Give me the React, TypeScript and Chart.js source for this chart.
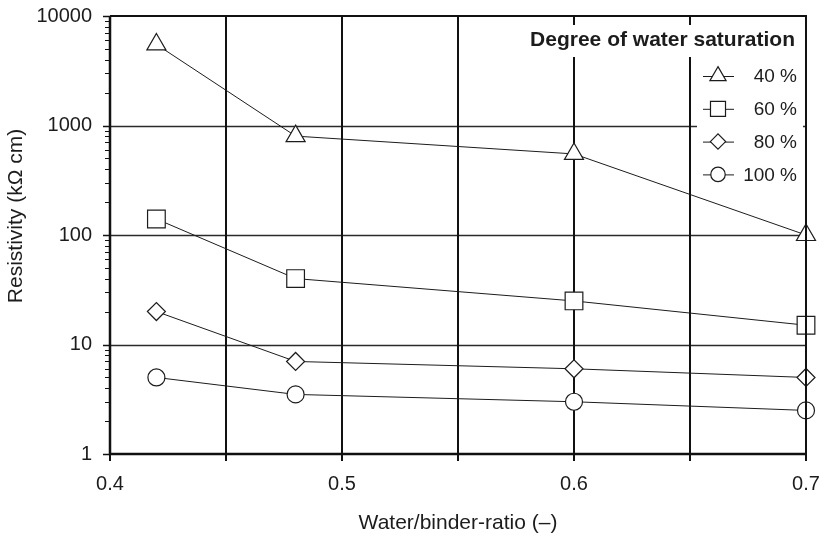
import React, { useEffect, useRef } from 'react';
import { Chart, registerables } from 'chart.js';

Chart.register(...registerables);

// ---- data ----
const waterBinderRatio = [0.42, 0.48, 0.6, 0.7];
const saturation40 = [5500, 800, 550, 100];
const saturation60 = [140, 40, 25, 15];
const saturation80 = [20, 7, 6, 5];
const saturation100 = [5, 3.5, 3, 2.5];
const seriesLabels = ['40 %', '60 %', '80 %', '100 %'];
const xTickLabels = [0.4, 0.5, 0.6, 0.7];
const yTickLabels = [1, 10, 100, 1000, 10000];
const legendTitle = 'Degree of water saturation';
const xTitle = 'Water/binder-ratio (–)';
const yTitle = 'Resistivity (kΩ cm)';

// ---- styles ----
const FONT = '"Liberation Sans", Arial, Helvetica, sans-serif';
const INK = '#1c1c1c';
const pointStyles = ['triangle', 'rect', 'rectRot', 'circle'];
const pointRadii = [11, 12.5, 9, 8.5];

const seriesValues = [saturation40, saturation60, saturation80, saturation100];

function drawMarker(ctx: CanvasRenderingContext2D, style: string, x: number, y: number, r: number) {
  ctx.beginPath();
  if (style === 'triangle') {
    ctx.moveTo(x, y - r);
    ctx.lineTo(x + r * 0.866, y + r * 0.5);
    ctx.lineTo(x - r * 0.866, y + r * 0.5);
    ctx.closePath();
  } else if (style === 'rect') {
    const s = r * Math.SQRT1_2;
    ctx.rect(x - s, y - s, 2 * s, 2 * s);
  } else if (style === 'rectRot') {
    ctx.moveTo(x - r, y);
    ctx.lineTo(x, y - r);
    ctx.lineTo(x + r, y);
    ctx.lineTo(x, y + r);
    ctx.closePath();
  } else {
    ctx.arc(x, y, r, 0, Math.PI * 2);
  }
  ctx.fill();
  ctx.stroke();
}

const framePlugin = {
  id: 'frame',
  beforeDatasetsDraw(chart: any) {
    const { ctx, chartArea: a, scales } = chart;
    const xs = scales.x;
    const ys = scales.y;
    ctx.save();
    // horizontal grid lines at decades
    ctx.strokeStyle = '#2a2a2a';
    ctx.lineWidth = 1.3;
    yTickLabels.forEach((v) => {
      if (v <= ys.min || v >= ys.max) return;
      const py = Math.round(ys.getPixelForValue(v)) + 0.5;
      ctx.beginPath();
      ctx.moveTo(a.left, py);
      ctx.lineTo(a.right, py);
      ctx.stroke();
    });
    // vertical grid lines
    ctx.strokeStyle = '#111';
    ctx.lineWidth = 2;
    xs.ticks.forEach((t: any) => {
      if (t.value <= xs.min + 1e-9 || t.value >= xs.max - 1e-9) return;
      const px = Math.round(xs.getPixelForValue(t.value));
      ctx.beginPath();
      ctx.moveTo(px, a.top);
      ctx.lineTo(px, a.bottom);
      ctx.stroke();
    });
    // legend background boxes
    ctx.fillStyle = '#fff';
    ctx.fillRect(a.right - 283, a.top + 9, 280, 32);
    ctx.fillRect(a.right - 109, a.top + 40, 106, 134);
    // legend title
    ctx.fillStyle = INK;
    ctx.font = `bold 21px ${FONT}`;
    ctx.textAlign = 'right';
    ctx.textBaseline = 'middle';
    ctx.fillText(legendTitle, a.right - 11, a.top + 24);
    // legend items
    ctx.font = `19px ${FONT}`;
    seriesLabels.forEach((label, i) => {
      const cy = a.top + 60 + i * 32.8;
      ctx.strokeStyle = INK;
      ctx.lineWidth = 1;
      ctx.beginPath();
      ctx.moveTo(a.right - 103, cy + 0.5);
      ctx.lineTo(a.right - 72, cy + 0.5);
      ctx.stroke();
      ctx.fillStyle = '#fff';
      ctx.lineWidth = 1.2;
      drawMarker(ctx, pointStyles[i], a.right - 88, cy, pointRadii[i] * 0.85);
      ctx.fillStyle = INK;
      ctx.fillText(label, a.right - 9, cy + 1);
    });
    // y-axis title
    ctx.save();
    ctx.translate(16, 216);
    ctx.rotate(-Math.PI / 2);
    ctx.textAlign = 'center';
    ctx.textBaseline = 'middle';
    ctx.font = `21px ${FONT}`;
    ctx.fillStyle = INK;
    ctx.fillText(yTitle, 0, 0);
    ctx.restore();
    ctx.restore();
  },
  afterDatasetsDraw(chart: any) {
    const { ctx, chartArea: a, scales } = chart;
    const xs = scales.x;
    const ys = scales.y;
    ctx.save();
    ctx.strokeStyle = '#111';
    // top & right border
    ctx.lineWidth = 2;
    ctx.beginPath();
    ctx.moveTo(a.left, a.top);
    ctx.lineTo(a.right, a.top);
    ctx.lineTo(a.right, a.bottom);
    ctx.stroke();
    // left & bottom axis lines
    ctx.lineWidth = 2.5;
    ctx.beginPath();
    ctx.moveTo(a.left, a.top);
    ctx.lineTo(a.left, a.bottom);
    ctx.lineTo(a.right, a.bottom);
    ctx.stroke();
    // x tick marks
    ctx.lineWidth = 2;
    xs.ticks.forEach((t: any) => {
      const px = Math.round(xs.getPixelForValue(t.value));
      ctx.beginPath();
      ctx.moveTo(px, a.bottom - 5);
      ctx.lineTo(px, a.bottom + 7);
      ctx.stroke();
    });
    // y tick marks (major + minor)
    yTickLabels.forEach((d, i) => {
      const py = Math.round(ys.getPixelForValue(d)) + 0.5;
      ctx.lineWidth = 1.5;
      ctx.beginPath();
      ctx.moveTo(a.left - 7, py);
      ctx.lineTo(a.left, py);
      ctx.stroke();
      if (i < yTickLabels.length - 1) {
        ctx.lineWidth = 1;
        for (let k = 2; k <= 9; k++) {
          const my = Math.round(ys.getPixelForValue(d * k)) + 0.5;
          ctx.beginPath();
          ctx.moveTo(a.left - 5, my);
          ctx.lineTo(a.left, my);
          ctx.stroke();
        }
      }
    });
    ctx.restore();
  },
};

export default function App() {
  const canvasRef = useRef<HTMLCanvasElement | null>(null);

  useEffect(() => {
    document.body.style.margin = '0';
    const canvas = canvasRef.current;
    if (!canvas) return;
    const datasets = seriesValues.map((vals, i) => ({
      label: seriesLabels[i],
      data: waterBinderRatio.map((x, j) => ({ x, y: vals[j] })),
      showLine: true,
      borderColor: INK,
      borderWidth: 1,
      pointStyle: pointStyles[i],
      pointRadius: pointRadii[i],
      pointBackgroundColor: '#fff',
      pointBorderColor: INK,
      pointBorderWidth: 1.2,
      clip: false as any,
    }));

    const chart = new Chart(canvas, {
      type: 'scatter',
      data: { datasets },
      options: {
        responsive: false,
        animation: false,
        devicePixelRatio: 1,
        layout: { padding: { top: 16, right: 18, left: 0, bottom: 0 } },
        plugins: { legend: { display: false }, tooltip: { enabled: false } },
        scales: {
          x: {
            type: 'linear',
            min: 0.4,
            max: 0.7,
            afterFit: (s: any) => {
              s.height = 84;
              s.paddingLeft = 0;
              s.paddingRight = 0;
            },
            grid: { display: false, drawTicks: false },
            border: { display: false },
            ticks: {
              stepSize: 0.05,
              autoSkip: false,
              maxRotation: 0,
              padding: 18,
              color: INK,
              font: { family: FONT, size: 20 },
              callback: (v: any) => {
                const hit = xTickLabels.find((t) => Math.abs(t - Number(v)) < 1e-6);
                return hit !== undefined ? String(hit) : '';
              },
            },
            title: {
              display: true,
              text: xTitle,
              color: INK,
              font: { family: FONT, size: 21 },
              padding: { top: 0, bottom: 2 },
            },
          },
          y: {
            type: 'logarithmic',
            min: 1,
            max: 10000,
            afterFit: (s: any) => {
              s.width = 110;
              s.paddingTop = 0;
              s.paddingBottom = 0;
            },
            grid: { display: false, drawTicks: false },
            border: { display: false },
            ticks: {
              autoSkip: false,
              padding: 18,
              color: INK,
              font: { family: FONT, size: 20 },
              callback: (v: any) => {
                const hit = yTickLabels.find((t) => Math.abs(t - Number(v)) < 1e-6);
                return hit !== undefined ? String(hit) : '';
              },
            },
            title: { display: false },
          },
        },
      },
      plugins: [framePlugin],
    } as any);

    return () => {
      chart.destroy();
    };
  }, []);

  return (
    <div style={{ position: 'fixed', left: 0, top: 0, width: 824, height: 538, background: '#fff' }}>
      <canvas ref={canvasRef} width={824} height={538} style={{ display: 'block', width: 824, height: 538 }} />
    </div>
  );
}
